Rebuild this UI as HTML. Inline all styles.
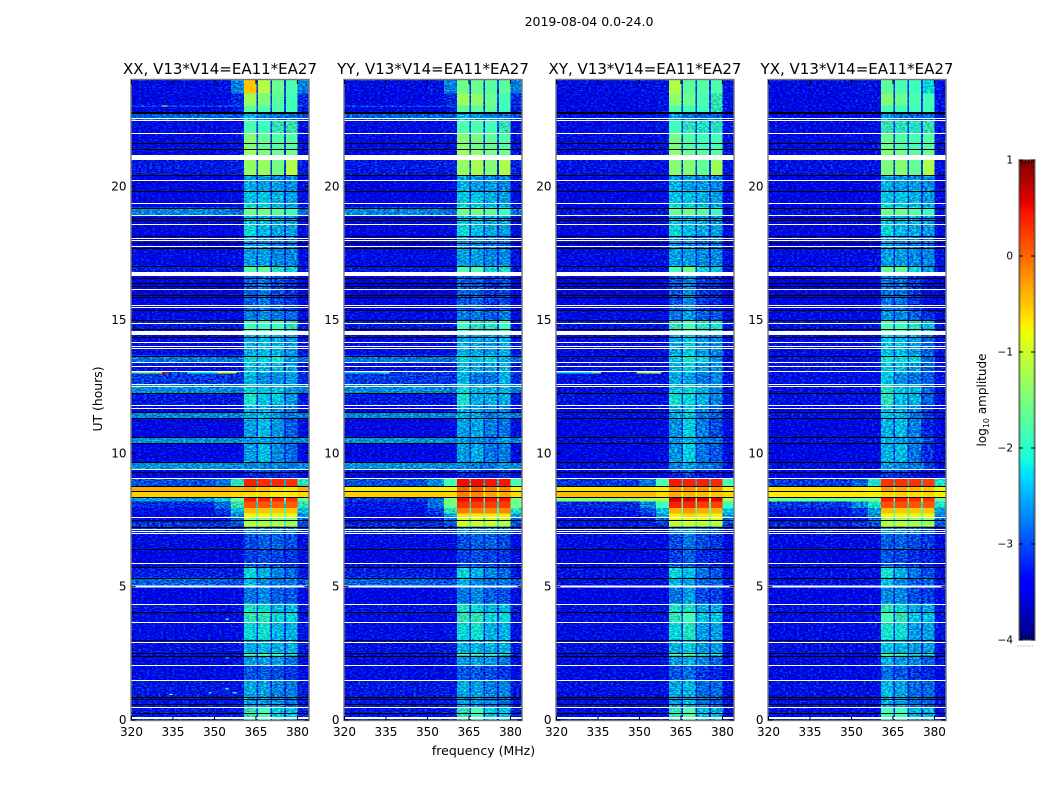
<!DOCTYPE html>
<html><head><meta charset="utf-8">
<style>
html,body{margin:0;padding:0;background:#fff;width:1050px;height:800px;overflow:hidden}
svg{display:block}
text{font-family:"DejaVu Sans","Liberation Sans",sans-serif;fill:#000}
</style></head>
<body>
<svg id="chart" width="1050" height="800" viewBox="0 0 1050 800" xmlns="http://www.w3.org/2000/svg">
<defs id="defs"></defs>
</svg>
<script>
// ---- categorical / tick data ----
const panelTitles = ["XX, V13*V14=EA11*EA27","YY, V13*V14=EA11*EA27","XY, V13*V14=EA11*EA27","YX, V13*V14=EA11*EA27"];
const utTicks = [0,5,10,15,20];
const freqTicks = [320,335,350,365,380];
const colorbarTicks = [1,0,-1,-2,-3,-4];

// ---- frequency bins (MHz); colLevel says which level column each bin reads ----
const freqEdges = [320,350,356,360.6,365.2,365.7,370.3,370.8,375.1,375.8,380.1,384];
const colLevel = [0,1,2,4,3,5,3,6,3,7,2];

// ---- time bins (UT hours, top to bottom) ----
const utEdges = [24,23.5,23.05,22.98,22.8,22.5,22,21.4,21,20.44,20.24,19.84,19.38,19.21,18.93,18.6,18.15,17.7,17.01,16.8,16.58,15.38,15,14.59,13.66,13.41,13.08,13,12.6,12.25,11.8,11.55,11.31,10.6,10.37,9.68,9.42,9.3,9.06,8.76,8.58,8.37,8.2,7.95,7.75,7.61,7.41,7.25,7,6.4,5.88,5.75,5.34,5.05,4.36,4.05,3.66,3.01,2.52,2.41,2.07,1.49,0.86,0.48,0];

// ---- log10 amplitude per time bin (XX): [bg, mid, near, gap, band1, band2, band3, band4] ----
const levelsXX = [
[-3.3,-3.25,-2.65,-3.0,-0.5,-1.15,-1.6,-1.8],
[-3.35,-3.3,-3.1,-3.0,-1.3,-1.5,-1.7,-1.85],
[-2.9,-2.9,-2.9,-2.9,-1.75,-1.8,-1.8,-1.9],
[-3.35,-3.35,-3.2,-3.0,-1.7,-1.8,-1.8,-1.9],
[-2.8,-2.8,-2.85,-2.8,-2.35,-2.6,-2.7,-2.7],
[-3.3,-3.3,-3.25,-3.0,-1.8,-1.9,-1.95,-1.95],
[-3.3,-3.3,-3.25,-3.0,-1.45,-1.65,-1.75,-1.75],
[-3.3,-3.3,-3.25,-3.0,-1.3,-1.5,-1.6,-1.6],
[-3.2,-3.2,-3.15,-3.0,-1.35,-1.35,-1.55,-1.2],
[-3.4,-3.4,-3.35,-3.1,-2.5,-2.55,-2.6,-2.6],
[-3.35,-3.35,-3.3,-3.0,-2.4,-2.5,-2.5,-2.6],
[-3.35,-3.35,-3.3,-3.0,-2.3,-2.3,-2.4,-2.5],
[-3.4,-3.4,-3.3,-3.1,-2.2,-2.3,-2.4,-2.5],
[-2.6,-2.65,-2.75,-2.75,-1.6,-1.55,-1.7,-1.9],
[-3.4,-3.4,-3.35,-3.1,-2.3,-2.35,-2.4,-2.5],
[-3.35,-3.35,-3.3,-3.05,-2.2,-2.35,-2.45,-2.5],
[-3.4,-3.4,-3.35,-3.2,-2.55,-2.6,-2.7,-2.75],
[-3.3,-3.3,-3.25,-3.1,-2.5,-2.5,-2.6,-2.6],
[-3.2,-3.2,-3.2,-3.0,-1.8,-1.7,-2.1,-2.2],
[-3.45,-3.45,-3.4,-3.2,-2.8,-2.7,-2.9,-3.0],
[-3.45,-3.45,-3.4,-3.2,-2.8,-2.7,-2.9,-3.0],
[-3.3,-3.3,-3.3,-3.1,-2.65,-2.6,-2.7,-2.75],
[-3.2,-3.2,-3.2,-2.9,-1.9,-1.9,-1.9,-2.0],
[-3.3,-3.3,-3.25,-3.0,-2.4,-2.35,-2.4,-2.5],
[-2.7,-2.7,-2.75,-2.7,-2.2,-2.2,-2.1,-2.5],
[-3.25,-3.25,-3.25,-3.0,-2.35,-2.35,-2.4,-2.5],
[-2.9,-2.9,-3.0,-3.0,-2.3,-2.4,-2.4,-2.5],
[-3.0,-3.0,-3.05,-2.95,-2.4,-2.6,-2.6,-2.5],
[-2.6,-2.6,-2.65,-2.7,-2.2,-2.3,-2.3,-2.5],
[-3.2,-3.2,-3.2,-3.0,-2.1,-2.3,-2.3,-2.5],
[-3.35,-3.35,-3.3,-3.1,-2.4,-2.4,-2.5,-2.7],
[-2.6,-2.6,-2.65,-2.7,-2.4,-2.4,-2.6,-2.7],
[-3.35,-3.35,-3.3,-3.1,-2.5,-2.35,-2.55,-2.8],
[-2.55,-2.55,-2.6,-2.65,-2.5,-2.5,-2.6,-2.6],
[-3.35,-3.35,-3.3,-3.05,-2.5,-2.35,-2.6,-2.75],
[-2.55,-2.55,-2.6,-2.65,-2.6,-2.6,-2.6,-2.65],
[-3.3,-3.3,-3.3,-3.2,-2.9,-2.9,-2.95,-3.0],
[-3.4,-3.4,-3.35,-3.3,-3.1,-3.1,-3.1,-3.1],
[-2.9,-2.7,-2.0,-2.4,0.4,0.35,0.35,0.3],
[-0.35,-0.35,-0.4,-0.7,-0.3,-0.45,-0.6,-0.65],
[-0.55,-0.55,-0.6,-0.8,-0.65,-0.6,-0.7,-0.7],
[-2.5,-2.2,-1.6,-1.6,0.4,0.4,0.35,0.3],
[-3.1,-2.75,-1.95,-2.2,0.1,0.1,0.05,0.05],
[-3.25,-3.0,-2.35,-1.9,-0.45,-0.5,-0.5,-0.5],
[-3.3,-3.1,-2.6,-1.6,-0.8,-0.8,-0.85,-0.85],
[-3.3,-3.2,-2.8,-2.0,-1.4,-1.4,-1.4,-1.45],
[-3.0,-3.0,-2.9,-1.9,-1.05,-1.05,-1.15,-1.25],
[-3.05,-3.05,-3.1,-3.0,-2.6,-2.6,-2.6,-2.7],
[-3.3,-3.3,-3.3,-3.15,-2.9,-2.8,-2.8,-2.9],
[-3.35,-3.35,-3.3,-3.2,-2.95,-2.9,-2.95,-3.0],
[-3.3,-3.3,-3.3,-3.2,-3.0,-3.0,-3.0,-3.05],
[-3.15,-3.15,-3.2,-3.1,-2.2,-2.4,-2.6,-2.75],
[-2.8,-2.85,-2.9,-2.9,-2.4,-2.6,-2.7,-2.7],
[-3.35,-3.35,-3.3,-3.15,-2.7,-2.6,-2.8,-2.85],
[-3.25,-3.25,-3.2,-3.0,-2.1,-2.2,-2.35,-2.35],
[-3.3,-3.3,-3.25,-3.0,-1.95,-1.95,-2.2,-2.2],
[-3.3,-3.3,-3.25,-3.05,-2.2,-2.15,-2.4,-2.4],
[-3.25,-3.25,-3.2,-3.05,-2.4,-2.35,-2.4,-2.4],
[-3.25,-3.25,-3.2,-2.9,-1.65,-1.65,-1.9,-1.95],
[-3.3,-3.3,-3.25,-3.05,-2.5,-2.5,-2.5,-2.7],
[-3.3,-3.3,-3.3,-3.15,-2.85,-2.85,-2.9,-3.0],
[-3.2,-3.2,-3.2,-3.05,-2.45,-2.5,-2.65,-2.65],
[-3.2,-3.2,-3.2,-3.05,-2.5,-2.5,-2.6,-2.7],
[-3.2,-3.2,-3.15,-3.0,-1.95,-1.85,-2.25,-2.3]
];

// ---- hot period (roughly 7.3-9 UT) differs per polarisation ----
const hotRowTops = [9.06,8.76,8.58,8.37,8.2,7.95,7.75,7.61,7.41];
const hotYY = [
[-2.9,-2.6,-1.85,-2.3,0.5,0.5,0.45,0.45],
[-0.75,-0.75,-0.75,-0.8,0.05,0.05,-0.1,-0.15],
[-0.55,-0.55,-0.6,-0.7,-0.1,-0.15,-0.3,-0.35],
[-3.0,-2.7,-1.5,-1.8,0.5,0.5,0.45,0.45],
[-3.2,-2.75,-1.6,-2.1,0.3,0.25,0.25,0.25],
[-3.25,-3.0,-2.0,-1.9,-0.1,-0.1,-0.15,-0.15],
[-3.3,-3.1,-2.5,-1.5,-0.65,-0.7,-0.7,-0.7],
[-3.3,-3.2,-2.8,-2.0,-1.0,-1.0,-1.0,-1.1],
[-3.1,-3.05,-2.9,-1.9,-0.95,-1.05,-1.05,-1.2]
];
const hotXY = [
[-3.0,-2.7,-1.8,-2.3,0.45,0.4,0.4,0.35],
[-0.7,-0.7,-0.75,-0.8,-0.2,-0.2,-0.2,-0.25],
[-0.45,-0.45,-0.6,-0.8,-0.35,-0.4,-0.45,-0.5],
[-1.4,-1.3,-1.2,-1.0,0.7,0.65,0.6,0.55],
[-3.1,-2.6,-1.9,-1.9,0.4,0.35,0.25,0.2],
[-3.2,-2.9,-2.3,-1.7,-0.4,-0.25,-0.35,-0.4],
[-3.3,-3.1,-2.5,-1.6,-0.75,-0.6,-0.7,-0.75],
[-3.3,-3.2,-2.8,-1.8,-0.9,-0.85,-0.9,-0.95],
[-3.2,-3.1,-3.0,-1.9,-1.1,-1.1,-1.15,-1.2]
];
const hotYX = [
[-3.0,-2.8,-2.1,-2.3,0.3,0.3,0.3,0.25],
[-0.65,-0.7,-0.75,-0.9,-0.25,-0.3,-0.4,-0.5],
[-0.7,-0.7,-0.75,-0.9,-0.6,-0.55,-0.6,-0.6],
[-1.6,-1.6,-1.6,-1.4,0.4,0.4,0.35,0.3],
[-3.0,-2.6,-2.1,-2.1,0.15,0.15,0.1,0.1],
[-3.2,-3.0,-2.5,-1.9,-0.45,-0.5,-0.5,-0.5],
[-3.3,-3.1,-2.6,-1.6,-0.8,-0.8,-0.85,-0.85],
[-3.3,-3.2,-2.8,-2.0,-1.3,-1.3,-1.35,-1.4],
[-3.1,-3.0,-2.9,-1.9,-1.05,-1.05,-1.15,-1.25]
];

// ---- band shifts per polarisation: [utLow, utHigh, band1, band2, band3, band4] ----
const bandShiftXX = [];
const bandShiftYY = [[23.5,24,-1.1,-0.45,-0.1,0.1],[20.44,23.5,0,0.1,0.1,0],[9.06,17.01,0,-0.1,-0.1,0.1]];
const bandShiftXY = [[23.5,24,-0.7,-0.55,-0.15,0],[20.44,23.5,-0.1,-0.1,-0.1,-0.1],[9.06,17.01,-0.05,0.1,-0.1,-0.1],[0,7.25,0,0.1,-0.1,-0.1]];
const bandShiftYX = [[23.5,24,-1.2,-0.65,-0.3,-0.4],[20.44,23.5,-0.15,-0.1,-0.1,0],[9.06,17.01,0.1,0,-0.1,-0.3],[0,7.25,0.1,0,-0.1,-0.1]];
// cross-hands have no bright background strips
const backgroundCap = [0,0,-3.25,-3.25];

// ---- flagged (no data) integrations, UT hours ----
const whiteThin = [22.56,22.5,22.01,20.24,19.38,18.93,18.6,18.09,17.99,17.76,16.15,15.57,15.48,14.88,14.16,14.04,13.94,13.41,13.28,13.08,12.6,12.53,11.8,11.69,9.42,9.06,7.61,7.15,7.08,7.0,5.88,4.36,3.66,2.91,2.07,1.49,0.48];
const whiteThick = [[21.18,21.0],[16.8,16.65],[14.59,14.44],[5.05,4.97],[0.11,0.04]];
const blackThin = [22.8,22.76,21.63,21.4,20.44,19.84,19.21,18.81,18.75,18.15,17.88,17.7,17.01,16.58,16.39,16.28,15.95,15.85,15.38,15.0,14.67,14.36,13.66,12.25,11.55,11.31,10.6,10.37,9.68,9.3,8.76,8.58,8.37,7.49,7.25,6.4,5.75,5.34,4.05,3.01,2.52,2.41,0.86,0.79,0.61,0.26];

// ---- narrow-band interference: [panel, ut, ut span, freqLow, freqHigh, level] ----
const rfiPanel = [0,0,0,0,0,0,0,0,2,2,2,0,0,0,0,1,1];
const rfiUt = [13.05,13.05,13.05,13.05,23.05,3.8,2.52,0.98,13.05,13.05,13.05,1.05,1.05,2.35,1.2,13.05,13.05];
const rfiSpan = [0.05,0.05,0.05,0.05,0.05,0.05,0.05,0.05,0.05,0.05,0.05,0.05,0.05,0.05,0.05,0.05,0.05];
const rfiFreqLow = [320,331,340,351,331,354,350,333.5,320,333,349,348,356.5,354,354,320,333];
const rfiFreqHigh = [331,333,351,358,333,355,351,335,333,336,358,349,358,355,355,333,336];
const rfiLevel = [-1.6,0.5,-2.2,-0.85,-0.9,-2.0,-2.0,-1.6,-2.3,-1.5,-1.2,-2.1,-2.1,-2.1,-2.1,-2.4,-2.0];

// ---- axes ----
const panelLefts = [131.5,344.5,556.5,768.5];
const panelWidth = 177, plotTop = 80, plotBottom = 720;
const utMax = 24, freqMin = 320, freqMax = 384;
const yOfUt = u => plotBottom - (u/utMax)*(plotBottom-plotTop);
const xOfFreq = (f,left) => left + (f-freqMin)/(freqMax-freqMin)*panelWidth;
const SVG = "http://www.w3.org/2000/svg";
const root = document.getElementById("chart");
const defs = document.getElementById("defs");

function jetChannel(t,pts){
  for(let i=1;i<pts.length;i++){
    if(t<=pts[i][0]){
      const a=pts[i-1],b=pts[i];
      return a[1]+(b[1]-a[1])*(t-a[0])/(b[0]-a[0]);
    }
  }
  return pts[pts.length-1][1];
}
const jetR=[[0,0],[0.35,0],[0.66,1],[0.89,1],[1,0.5]];
const jetG=[[0,0],[0.125,0],[0.375,1],[0.64,1],[0.91,0],[1,0]];
const jetB=[[0,0.5],[0.11,1],[0.34,1],[0.65,0],[1,0]];
function jetAt(t){
  t=Math.max(0,Math.min(1,t));
  const c=p=>Math.round(255*jetChannel(t,p));
  return "rgb("+c(jetR)+","+c(jetG)+","+c(jetB)+")";
}
const colorOfLevel = v => jetAt((v+4)/5);

function mk(tag,attrs,parent){
  const el=document.createElementNS(SVG,tag);
  for(const k in attrs) el.setAttribute(k,attrs[k]);
  (parent||root).appendChild(el);
  return el;
}

function levelsFor(p,i){
  const top=utEdges[i];
  const hot=[null,hotYY,hotXY,hotYX][p];
  const hi=hotRowTops.indexOf(top);
  if(hi>=0){ return hot? hot[hi].slice() : levelsXX[i].slice(); }
  const row=levelsXX[i].slice();
  const cap=backgroundCap[p];
  if(cap<0){ row[0]=Math.min(row[0],cap); row[1]=Math.min(row[1],cap); row[2]=Math.min(row[2],cap); }
  const shifts=[bandShiftXX,bandShiftYY,bandShiftXY,bandShiftYX][p];
  shifts.forEach(s=>{
    if(top>s[0] && top<=s[1]){ for(let b=0;b<4;b++) row[4+b]+=s[2+b]; }
  });
  return row;
}

function makeNoiseFilter(p,left){
  const f=mk("filter",{id:"speckle"+p,filterUnits:"userSpaceOnUse",x:left,y:plotTop,width:panelWidth,height:plotBottom-plotTop,"color-interpolation-filters":"sRGB"},defs);
  mk("feTurbulence",{type:"fractalNoise",baseFrequency:"0.36 0.72",numOctaves:"2",seed:String(11+p*7),result:"t"},f);
  mk("feColorMatrix",{in:"t",type:"matrix",values:"0 0 0 0 0.6  3.5 0 0 0 -1.35  0 3.5 0 0 -1.35  0 0 0 0 1",result:"n"},f);
  mk("feComposite",{in:"SourceGraphic",in2:"n",operator:"arithmetic",k1:"0",k2:"1",k3:"0.5",k4:"-0.3",result:"r"},f);
  mk("feComposite",{in:"r",in2:"SourceAlpha",operator:"in"},f);
}

panelLefts.forEach((left,p)=>{
  makeNoiseFilter(p,left);
  const panel=mk("g",{});
  
  

  const noisy=mk("g",{filter:"url(#speckle"+p+")","shape-rendering":"crispEdges"},panel);
  
  
  const smooth=mk("g",{"shape-rendering":"crispEdges"},panel);
  
  

  for(let i=0;i<utEdges.length-1;i++){
    const row=levelsFor(p,i);
    const y0=yOfUt(utEdges[i]), y1=yOfUt(utEdges[i+1]);
    for(let c=0;c<colLevel.length;c++){
      const v=row[colLevel[c]];
      const x0=xOfFreq(freqEdges[c],left), x1=xOfFreq(freqEdges[c+1],left);
      const cell=mk("rect",{x:x0.toFixed(2),y:y0.toFixed(2),width:(x1-x0).toFixed(2),height:(y1-y0).toFixed(2),fill:colorOfLevel(v)},v>-1.95?smooth:noisy);
      
      
    }
  }
  rfiPanel.forEach((rp,k)=>{
    if(rp!==p) return;
    const seg=mk("rect",{x:xOfFreq(rfiFreqLow[k],left).toFixed(2),y:yOfUt(rfiUt[k]).toFixed(2),width:(xOfFreq(rfiFreqHigh[k],left)-xOfFreq(rfiFreqLow[k],left)).toFixed(2),height:(rfiSpan[k]/utMax*(plotBottom-plotTop)).toFixed(2),fill:colorOfLevel(rfiLevel[k])},smooth);
    
    
  });

  // flagged rows
  const flags=mk("g",{"shape-rendering":"crispEdges"},panel);
  
  
  blackThin.forEach(u=>{
    const r=mk("rect",{x:left,y:Math.round(yOfUt(u)),width:panelWidth,height:1,fill:"#000"},flags);
    
    
  });
  whiteThin.forEach(u=>{
    const r=mk("rect",{x:left,y:Math.round(yOfUt(u)),width:panelWidth,height:1,fill:"#fff"},flags);
    
    
  });
  whiteThick.forEach(s=>{
    const r=mk("rect",{x:left,y:yOfUt(s[0]).toFixed(1),width:panelWidth,height:(yOfUt(s[1])-yOfUt(s[0])).toFixed(1),fill:"#fff"},flags);
    
    
  });

  // frame
  const frame=mk("rect",{x:left-0.5,y:plotTop-0.5,width:panelWidth+1,height:plotBottom-plotTop+1,fill:"none",stroke:"#777","stroke-width":1.4},panel);
  
  

  // ticks
  utTicks.forEach(u=>{
    const y=yOfUt(u);
    const t1=mk("line",{x1:left,x2:left+4,y1:y,y2:y,stroke:"#000","stroke-width":1},panel);
    
    
    const t2=mk("line",{x1:left+panelWidth-4,x2:left+panelWidth,y1:y,y2:y,stroke:"#000","stroke-width":1},panel);
    
    
    const lb=mk("text",{x:left-5,y:y+4,"text-anchor":"end","font-size":12},panel);
    lb.textContent=String(u);
    
    
  });
  freqTicks.forEach(f=>{
    const x=xOfFreq(f,left);
    const t1=mk("line",{x1:x,x2:x,y1:plotBottom,y2:plotBottom-4,stroke:"#000","stroke-width":1},panel);
    
    
    const t2=mk("line",{x1:x,x2:x,y1:plotTop,y2:plotTop+4,stroke:"#000","stroke-width":1},panel);
    
    
    const lb=mk("text",{x:x,y:736,"text-anchor":"middle","font-size":12},panel);
    lb.textContent=String(f);
    
    
  });

  const title=mk("text",{x:left+panelWidth/2,y:74,"text-anchor":"middle","font-size":15},panel);
  title.textContent=panelTitles[p];
  
  
});

// ---- figure labels ----
const sup=mk("text",{x:589,y:26,"text-anchor":"middle","font-size":12.5});
sup.textContent="2019-08-04 0.0-24.0";


const xl=mk("text",{x:483.5,y:755,"text-anchor":"middle","font-size":12.5});
xl.textContent="frequency (MHz)";


const yl=mk("text",{x:0,y:0,"text-anchor":"middle","font-size":12.4,transform:"translate(102,399) rotate(-90)"});
yl.textContent="UT (hours)";



// ---- colorbar ----
const cbLeft=1019,cbWidth=16,cbTop=160,cbBottom=640,cbMin=-4,cbMax=1;
const yOfLevel=v=>cbBottom-(v-cbMin)/(cbMax-cbMin)*(cbBottom-cbTop);
const grad=mk("linearGradient",{id:"jetGrad",x1:0,y1:1,x2:0,y2:0},defs);
[0,0.11,0.125,0.34,0.35,0.375,0.64,0.65,0.66,0.89,0.91,1].forEach(t=>{
  mk("stop",{offset:t,"stop-color":jetAt(t)},grad);
});
const cb=mk("rect",{x:cbLeft,y:cbTop,width:cbWidth,height:cbBottom-cbTop,fill:"url(#jetGrad)",stroke:"#777","stroke-width":1.2});


const cbInner=mk("rect",{x:cbLeft+1,y:cbTop,width:cbWidth-2,height:cbBottom-cbTop,fill:"none",stroke:"#000","stroke-width":0.6,"stroke-opacity":0.6});


colorbarTicks.forEach(v=>{
  const y=yOfLevel(v);
  const lb=mk("text",{x:1013,y:y+3.5,"text-anchor":"end","font-size":10.5});
  lb.textContent=(v<0?"\u2212"+(-v):String(v));
  
  
  const a=mk("line",{x1:cbLeft,x2:cbLeft+4,y1:y,y2:y,stroke:"#000","stroke-width":1});
  
  
  const b=mk("line",{x1:cbLeft+cbWidth-4,x2:cbLeft+cbWidth,y1:y,y2:y,stroke:"#000","stroke-width":1});
  
  
});
[0.2,0.4,0.6,0.8].forEach(fr=>{
  const x=cbLeft+fr*cbWidth;
  const m1=mk("line",{x1:x,x2:x,y1:cbTop,y2:cbTop+4,stroke:"#000","stroke-width":0.7});
  
  
  const m2=mk("line",{x1:x,x2:x,y1:cbBottom,y2:cbBottom-4,stroke:"#000","stroke-width":0.7});
  
  
});
const dots=mk("line",{x1:1017.5,x2:1035,y1:646,y2:646,stroke:"#888","stroke-width":1,"stroke-dasharray":"1 2"});


const cl=mk("text",{x:0,y:0,"text-anchor":"middle","font-size":12,transform:"translate(986,400) rotate(-90)"});


const s1=mk("tspan",{},cl); s1.textContent="log";
const s2=mk("tspan",{dy:3,"font-size":8},cl); s2.textContent="10";
const s3=mk("tspan",{dy:-3},cl); s3.textContent=" amplitude";
</script>
</body></html>
